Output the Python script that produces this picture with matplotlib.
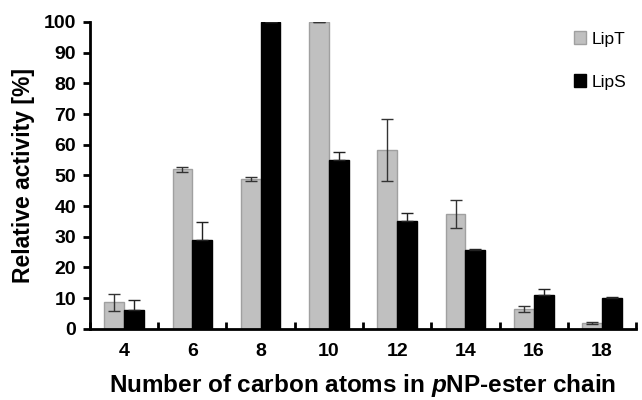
import matplotlib
matplotlib.use('Agg')
import matplotlib.pyplot as plt
import numpy as np

plt.rcParams['font.family'] = ['Liberation Sans', 'DejaVu Sans']
plt.rcParams['mathtext.fontset'] = 'custom'
plt.rcParams['mathtext.bfit'] = 'Liberation Sans:italic:bold'

carbons = ['4', '6', '8', '10', '12', '14', '16', '18']
lipT = [8.6, 52.0, 48.8, 100.0, 58.3, 37.3, 6.4, 1.8]
lipT_err = [2.8, 0.8, 0.6, 0.0, 10.1, 4.6, 1.0, 0.3]
lipS = [6.2, 28.8, 100.0, 55.0, 35.2, 25.7, 11.0, 9.9]
lipS_err = [3.2, 5.9, 0.0, 2.6, 2.5, 0.3, 2.0, 0.6]

fig = plt.figure(figsize=(6.42, 4.0), dpi=100)
ax = fig.add_axes([0.14, 0.178, 0.851, 0.767])

x = np.arange(len(carbons))
w = 0.29

ax.bar(x - w/2, lipT, w, color='#c0c0c0', edgecolor='#a0a0a0', linewidth=1,
       label='LipT', yerr=lipT_err, capsize=4,
       error_kw=dict(ecolor='#333333', elinewidth=1, capthick=1))
# lower half of LipS error bars is hidden inside the black bars
ax.bar(x + w/2, lipS, w, color='black', edgecolor='black', linewidth=1,
       label='LipS', yerr=[np.zeros(len(lipS)), lipS_err], capsize=4,
       error_kw=dict(ecolor='#222222', elinewidth=1, capthick=1))

ax.set_xlim(-0.5, len(carbons) - 0.5)
ax.set_ylim(0, 100)
ax.set_yticks(np.arange(0, 101, 10))
ax.set_xticks(x)
ax.set_xticklabels(carbons)
ax.set_xticks(np.arange(-0.5, len(carbons), 1), minor=True)

for s in ['top', 'right']:
    ax.spines[s].set_visible(False)
for s in ['left', 'bottom']:
    ax.spines[s].set_linewidth(2)

ax.tick_params(axis='x', which='major', length=0, pad=10)
ax.tick_params(axis='x', which='minor', direction='in', length=5, width=2)
ax.tick_params(axis='y', direction='out', length=5, width=2, pad=5)
for lab in ax.get_xticklabels() + ax.get_yticklabels():
    lab.set_fontsize(14)
    lab.set_fontweight('bold')

ax.set_ylabel('Relative activity [%]', fontsize=16.5, fontweight='bold', labelpad=6)
ax.set_xlabel('Number of carbon atoms in $\\mathbfit{p}$NP-ester chain',
              fontsize=17.5, fontweight='bold', labelpad=9)

leg = ax.legend(loc='upper right', frameon=False, fontsize=12.5,
                handlelength=0.7, handleheight=0.7, handletextpad=0.3,
                labelspacing=1.6, bbox_to_anchor=(1.01, 1.02))

fig.savefig('out.png', dpi=100)
